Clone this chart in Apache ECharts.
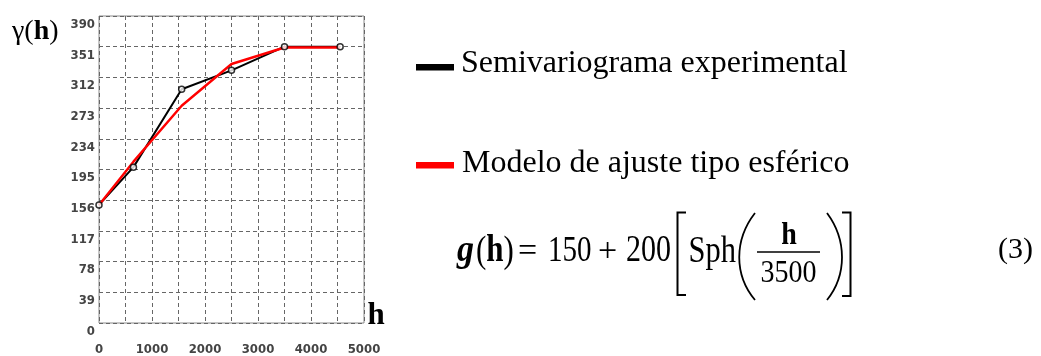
<!DOCTYPE html>
<html>
<head>
<meta charset="utf-8">
<script src="https://cdn.jsdelivr.net/npm/echarts@6/dist/echarts.min.js"></script>
<style>
html,body{margin:0;padding:0;background:#fff;}
#c{width:1041px;height:356px;}
</style>
</head>
<body>
<div id="c"></div>
<script>
// Lag distances h
const lags = [0, 650, 1560, 2500, 3500, 4550];
// Experimental semivariogram values
const experimental = [150, 198, 297, 321, 351, 351];
// Fitted spherical model values at the same lags
const model = [150, 205, 276, 329, 350, 350];
// Axis tick labels
const yTicks = [0, 39, 78, 117, 156, 195, 234, 273, 312, 351, 390];
const xTicks = [0, 1000, 2000, 3000, 4000, 5000];
const legendNames = ['Semivariograma experimental', 'Modelo de ajuste tipo esférico'];

const chart = echarts.init(document.getElementById('c'), null, {renderer: 'canvas'});
const serif = 'Liberation Serif';
const gridCol = '#666';
const labelFont = {fontFamily: 'DejaVu Sans Condensed', fontWeight: 'bold', fontSize: 13, color: '#444'};

function pairs(ys) { return lags.map((x, i) => [x, ys[i]]); }

function txt(text, x, yc, size, opts) {
  opts = opts || {};
  return {
    type: 'text', x: x, y: yc, scaleY: opts.scaleY || 1, z: 100,
    style: {
      text: text,
      fontFamily: serif,
      fontSize: size,
      fontWeight: opts.bold ? 'bold' : 'normal',
      fontStyle: opts.italic ? 'italic' : 'normal',
      fill: '#000',
      align: opts.align || 'left',
      verticalAlign: 'middle',
      rich: opts.rich
    }
  };
}

const F = 29, S = 1.27, B = 263;
const yc = B - 0.305 * F * S;

const graphics = [
  // gamma(h) axis title
  {
    type: 'text', x: 12, y: 31.5, z: 100,
    style: {
      text: '{r|γ(}{b|h}{r|)}', verticalAlign: 'middle', align: 'left',
      rich: {
        r: {fontFamily: serif, fontSize: 28, fill: '#000'},
        b: {fontFamily: serif, fontSize: 28, fontWeight: 'bold', fill: '#000'}
      }
    }
  },
  // h axis title
  txt('h', 367.5, 315.5, 31, {bold: true}),
  // legend
  {type: 'rect', z: 100, shape: {x: 416, y: 64, width: 38, height: 6.5}, style: {fill: '#000'}},
  {type: 'rect', z: 100, shape: {x: 416, y: 162, width: 38, height: 6.5}, style: {fill: '#ff0000'}},
  txt(legendNames[0], 461, 63.5, 32),
  txt(legendNames[1], 462, 163.5, 32),
  // formula
  txt('g', 457, yc, 34, {bold: true, italic: true, scaleY: 1.1}),
  {
    type: 'text', x: 476, y: yc, scaleY: 1.2, z: 100,
    style: {
      text: '{r|(}{b|h}{r|)}', verticalAlign: 'middle', align: 'left',
      rich: {
        r: {fontFamily: serif, fontSize: 31, fill: '#000'},
        b: {fontFamily: serif, fontSize: 31, fontWeight: 'bold', fill: '#000'}
      }
    }
  },
  txt('=', 518, yc, 34, {scaleY: 1}),
  txt('150', 548, yc, F, {scaleY: S}),
  txt('+', 598, yc, 34, {scaleY: 1}),
  txt('200', 626, yc, 30, {scaleY: S * 0.97}),
  txt('Sph', 688.5, yc, 30.5, {scaleY: 1.22}),
  txt('h', 789, 235.6, 28, {bold: true, align: 'center', scaleY: 1.1}),
  txt('3500', 788.5, 273.7, 28, {align: 'center', scaleY: 1.15}),
  {type: 'line', z: 100, shape: {x1: 757, y1: 252, x2: 820, y2: 252}, style: {stroke: '#000', lineWidth: 1.6}},
  // brackets
  {type: 'polyline', z: 100, shape: {points: [[686, 212.5], [677.5, 212.5], [677.5, 295], [686, 295]]}, style: {stroke: '#000', lineWidth: 2, fill: null}},
  {type: 'polyline', z: 100, shape: {points: [[842, 212.5], [850.5, 212.5], [850.5, 296], [842, 296]]}, style: {stroke: '#000', lineWidth: 2, fill: null}},
  // big parentheses
  {type: 'bezierCurve', z: 100, shape: {x1: 755, y1: 213, cpx1: 734, cpy1: 240, cpx2: 734, cpy2: 275, x2: 755, y2: 300}, style: {stroke: '#000', lineWidth: 1.8, fill: null}},
  {type: 'bezierCurve', z: 100, shape: {x1: 827, y1: 213, cpx1: 847, cpy1: 240, cpx2: 847, cpy2: 275, x2: 827, y2: 300}, style: {stroke: '#000', lineWidth: 1.8, fill: null}},
  // equation number
  txt('(3)', 998, 250.3, 30)
];

chart.setOption({
  animation: false,
  backgroundColor: '#fff',
  grid: {left: 99, right: 677, top: 16, bottom: 31, show: true, borderColor: '#8a8a8a', borderWidth: 1, backgroundColor: 'transparent'},
  xAxis: {
    type: 'value', min: 0, max: 5000, interval: 500,
    axisLine: {show: false}, axisTick: {show: false},
    axisLabel: Object.assign({margin: 20, formatter: v => (xTicks.indexOf(v) >= 0 ? String(v) : '')}, labelFont),
    splitLine: {show: true, lineStyle: {color: gridCol, type: [4, 3], width: 1}}
  },
  yAxis: {
    type: 'value', min: 0, max: 390, interval: 39,
    axisLine: {show: false}, axisTick: {show: false},
    axisLabel: Object.assign({margin: 4, verticalAlign: 'top', padding: [2, 0, 0, 0], formatter: v => (yTicks.indexOf(v) >= 0 ? String(v) : '')}, labelFont),
    splitLine: {show: true, lineStyle: {color: gridCol, type: [4, 3], width: 1}}
  },
  series: [
    {type: 'line', name: legendNames[0], data: pairs(experimental), symbol: 'none', z: 2,
     lineStyle: {color: '#000', width: 2}},
    {type: 'line', name: legendNames[1], data: pairs(model), symbol: 'none', z: 3,
     lineStyle: {color: '#ff0000', width: 2.4}},
    {type: 'scatter', data: pairs(experimental), symbol: 'circle', symbolSize: 6, z: 4,
     itemStyle: {color: '#fff', borderColor: '#000', borderWidth: 1.5}}
  ],
  graphic: graphics
});
</script>
</body>
</html>
